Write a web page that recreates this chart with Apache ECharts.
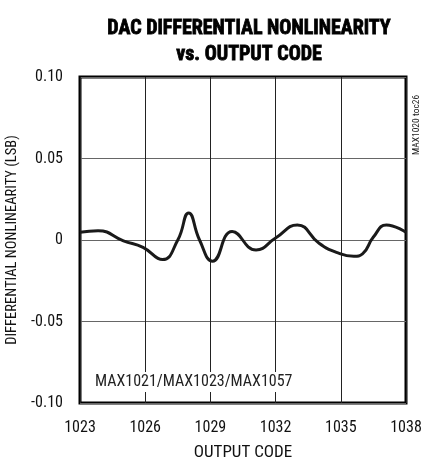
<!DOCTYPE html>
<html><head><meta charset="utf-8">
<script src="https://cdn.jsdelivr.net/npm/echarts@6/dist/echarts.min.js"></script>
<style>html,body{margin:0;padding:0;background:#fff}#c{width:422px;height:459px}</style>
</head><body><div id="c"></div>
<script>
var codes = [1023, 1023.83, 1025, 1025.9, 1026.8, 1027.5, 1028.0, 1028.5, 1029.1, 1030.0, 1031.1, 1032.0, 1033.0, 1034.0, 1034.8, 1035.6, 1036.0, 1036.5, 1037.1, 1038];
var dnl = [0.0047, 0.0057, -0.0005, -0.0045, -0.0120, 0.0, 0.0166, 0.0, -0.0130, 0.0052, -0.0061, 0.0012, 0.0092, -0.0020, -0.0076, -0.0100, -0.0085, 0.0018, 0.0092, 0.0047];
var xTicks = ['1023', '1026', '1029', '1032', '1035', '1038'];
var yTicks = ['-0.10', '-0.05', '0', '0.05', '0.10'];
var FONT = '"Roboto Condensed", "Liberation Sans Narrow", sans-serif';
var chart = echarts.init(document.getElementById('c'));
var pts = codes.map(function (c, i) { return [c, dnl[i]]; });
chart.setOption({
  animation: false,
  title: {
    text: 'DAC DIFFERENTIAL NONLINEARITY\nvs. OUTPUT CODE',
    left: 244, top: 11, textAlign: 'center',
    textStyle: { fontFamily: FONT, fontWeight: 'bold', fontSize: 20, lineHeight: 26, color: '#000',
      textBorderColor: '#000', textBorderWidth: 0.8 }
  },
  grid: { left: 80, right: 16, top: 77, bottom: 56, show: true, borderColor: '#000', borderWidth: 3,
    backgroundColor: 'transparent', containLabel: false, outerBoundsMode: 'none' },
  xAxis: {
    type: 'value', min: 1023, max: 1038, interval: 3,
    name: 'OUTPUT CODE', nameLocation: 'middle', nameGap: 41,
    nameTextStyle: { fontFamily: FONT, fontSize: 17, color: '#111' },
    axisLine: { show: false }, axisTick: { show: false },
    axisLabel: { fontFamily: FONT, fontSize: 16, color: '#111', margin: 17,
      formatter: function (v) { return xTicks[Math.round((v - 1023) / 3)]; } },
    splitLine: { show: true, lineStyle: { color: '#222', width: 1 } }
  },
  yAxis: {
    type: 'value', min: -0.1, max: 0.1, interval: 0.05,
    name: 'DIFFERENTIAL NONLINEARITY (LSB)', nameLocation: 'middle', nameGap: 52,
    nameTextStyle: { fontFamily: FONT, fontSize: 14.5, color: '#111' },
    axisLine: { show: false }, axisTick: { show: false },
    axisLabel: { fontFamily: FONT, fontSize: 16, color: '#111', margin: 17,
      formatter: function (v) { return yTicks[Math.round((v + 0.1) / 0.05)]; } },
    splitLine: { show: true, lineStyle: { color: '#666', width: 1 } }
  },
  graphic: [
    { type: 'text', left: 93, top: 372, z: 10,
      style: { text: 'MAX1021/MAX1023/MAX1057', fontFamily: FONT, fontSize: 16, fill: '#222', backgroundColor: '#fff', padding: [2, 2] } },
    { type: 'text', x: 412, y: 155, rotation: Math.PI / 2, z: 10,
      style: { text: 'MAX1020 toc26', fontFamily: FONT, fontSize: 9.5, fill: '#222' } }
  ],
  series: [{
    type: 'line', data: pts, smooth: 0.5, showSymbol: false,
    lineStyle: { color: '#1a1a1a', width: 3 }, z: 5
  }]
});
</script></body></html>
